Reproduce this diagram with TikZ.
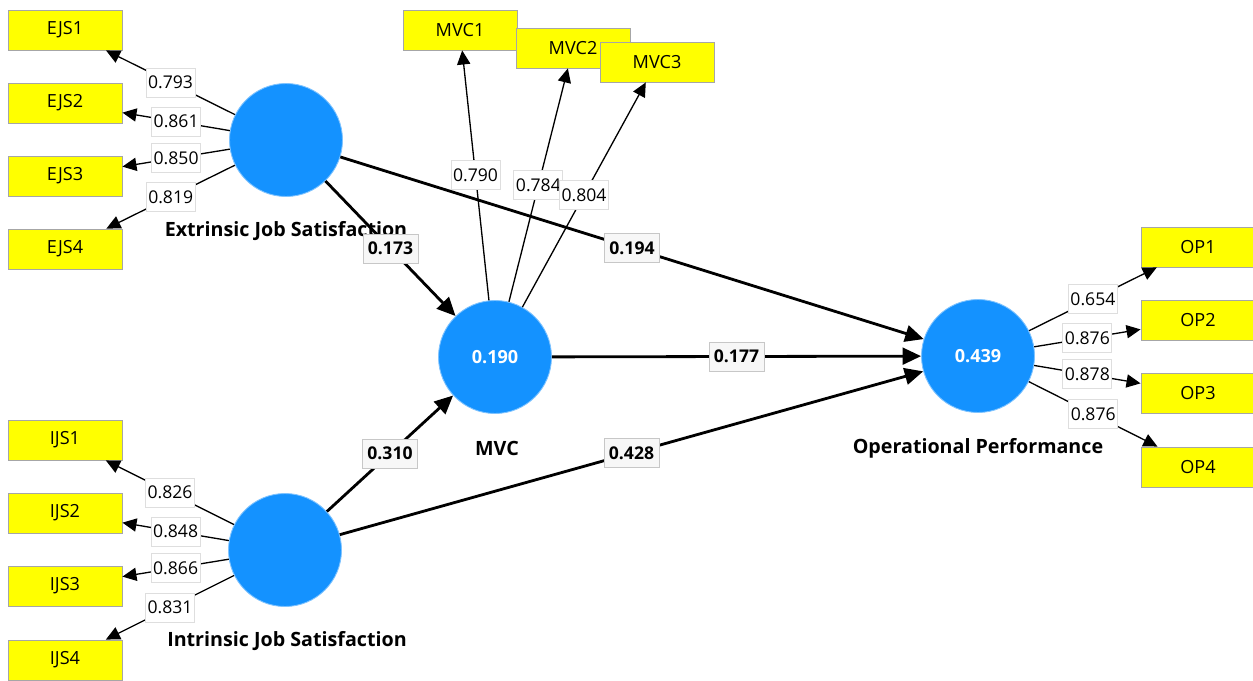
\documentclass[tikz,border=0pt]{standalone}
\usepackage{fontspec}
\setmainfont{Open Sans}
\usetikzlibrary{arrows.meta}

\definecolor{lvblue}{RGB}{20,146,255}
\definecolor{mvyellow}{RGB}{255,255,0}

\tikzset{
  latent/.style={circle, fill=lvblue, draw=lvblue!55!white, line width=0.5pt,
    minimum size=2.26cm, inner sep=0pt, text=white,
    font=\bfseries\fontsize{10.3}{12}\selectfont},
  indicator/.style={rectangle, fill=mvyellow, draw=black!35, line width=0.5pt,
    minimum width=2.28cm, minimum height=0.8cm, inner sep=0pt,
    font=\fontsize{10.3}{12}\selectfont},
  lvname/.style={font=\bfseries\fontsize{11.2}{13}\selectfont},
  loading/.style={-{Triangle[length=8pt,width=7.5pt]}, line width=0.75pt},
  coef/.style={-{Triangle[length=10.5pt,width=9.5pt]}, line width=1.6pt},
  weight/.style={fill=white, draw=black!13, line width=0.5pt,
    minimum width=0.98cm, minimum height=0.58cm, inner sep=0pt,
    font=\fontsize{10}{12}\selectfont},
  coefval/.style={weight, fill=black!3, draw=black!22, minimum width=1.1cm,
    font=\bfseries\fontsize{10}{12}\selectfont}
}

\begin{document}
\begin{tikzpicture}[x=0.02cm, y=-0.02cm]
  \fill[white] (0,0) rectangle (1253,680);
  \useasboundingbox (0,0) rectangle (1253,680);

  % latent variables
  \node[latent] (ejs) at (286,140) {};
  \node[latent] (ijs) at (285,550) {};
  \node[latent] (mvc) at (495,357) {0.190};
  \node[latent] (op) at (978,356) {0.439};

  \node[lvname] (ejs-name) at (286,231) {Extrinsic Job Satisfaction};
  \node[lvname] (ijs-name) at (287,641) {Intrinsic Job Satisfaction};
  \node[lvname] (mvc-name) at (497,448) {MVC};
  \node[lvname] (op-name) at (978,448) {Operational Performance};

  % indicators
  \node[indicator] (ejs1) at (65,30) {EJS1};
  \node[indicator] (ejs2) at (65,103) {EJS2};
  \node[indicator] (ejs3) at (65,176) {EJS3};
  \node[indicator] (ejs4) at (65,249) {EJS4};

  \node[indicator] (ijs1) at (65,440) {IJS1};
  \node[indicator] (ijs2) at (65,513) {IJS2};
  \node[indicator] (ijs3) at (65,586) {IJS3};
  \node[indicator] (ijs4) at (65,660) {IJS4};

  \node[indicator] (mvc1) at (460,30) {MVC1};
  \node[indicator] (mvc2) at (573,48) {MVC2};
  \node[indicator] (mvc3) at (657,62) {MVC3};

  \node[indicator] (op1) at (1198,247) {OP1};
  \node[indicator] (op2) at (1198,320) {OP2};
  \node[indicator] (op3) at (1198,393) {OP3};
  \node[indicator] (op4) at (1198,467) {OP4};

  % outer loadings
  \draw[loading] (ejs) -- node[weight] {0.793} (ejs1);
  \draw[loading] (ejs) -- node[weight] {0.861} (ejs2);
  \draw[loading] (ejs) -- node[weight] {0.850} (ejs3);
  \draw[loading] (ejs) -- node[weight] {0.819} (ejs4);

  \draw[loading] (ijs) -- node[weight] {0.826} (ijs1);
  \draw[loading] (ijs) -- node[weight] {0.848} (ijs2);
  \draw[loading] (ijs) -- node[weight] {0.866} (ijs3);
  \draw[loading] (ijs) -- node[weight] {0.831} (ijs4);

  \draw[loading] (mvc) -- node[weight] {0.790} (mvc1);
  \draw[loading] (mvc) -- node[weight] {0.784} (mvc2);
  \draw[loading] (mvc) -- node[weight] {0.804} (mvc3);

  \draw[loading] (op) -- node[weight] {0.654} (op1);
  \draw[loading] (op) -- node[weight] {0.876} (op2);
  \draw[loading] (op) -- node[weight] {0.878} (op3);
  \draw[loading] (op) -- node[weight] {0.876} (op4);

  % path coefficients
  \draw[coef] (ejs) -- node[coefval] {0.173} (mvc);
  \draw[coef] (ejs) -- node[coefval] {0.194} (op);
  \draw[coef] (ijs) -- node[coefval] {0.310} (mvc);
  \draw[coef] (ijs) -- node[coefval] {0.428} (op);
  \draw[coef] (mvc) -- node[coefval] {0.177} (op);
\end{tikzpicture}
\end{document}
